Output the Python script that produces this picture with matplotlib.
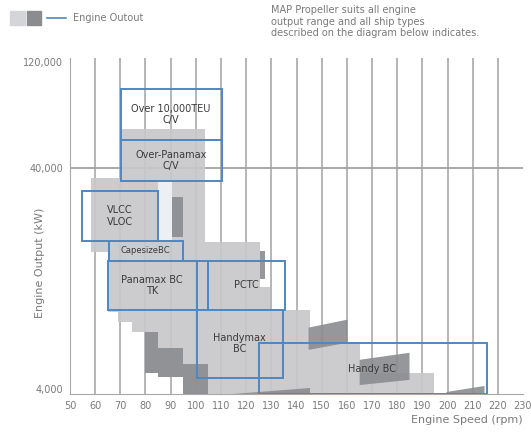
import matplotlib.pyplot as plt
from matplotlib.patches import Rectangle

# x ticks (rpm) and y ticks (kW)
rpm_ticks = [50, 60, 70, 80, 90, 100, 110, 120, 130, 140, 150, 160, 170, 180, 190, 200, 210, 220, 230]
grid_rpm = [60, 70, 80, 90, 100, 110, 120, 130, 140, 150, 160, 170, 180, 190, 200, 210, 220]
kw_ticks = [4000, 40000, 120000]
kw_labels = ["4,000", "40,000", "120,000"]

# engine output envelope (light grey), stepped outline
env_rpm = [58.3, 70.6, 70.6, 103.6, 103.6, 125.4, 125.4, 129.4, 129.4, 145.2, 145.2,
           165.1, 165.1, 194.8, 194.8, 94.8, 94.8, 84.9, 84.9, 79.8, 79.8, 74.6,
           74.6, 69.0, 69.0, 65.1, 65.1, 58.3]
env_kw = [36000, 36000, 60000, 60000, 18400, 18400, 11500, 11500, 9100, 9100, 6500,
          6500, 4700, 4700, 3790, 3790, 4500, 4500, 4700, 4700, 7200, 7200,
          8050, 8050, 8940, 8940, 16600, 16600]

# lighter gap inside the envelope
gap_rpm = [84.9, 90.5, 90.5, 84.9]
gap_kw = [18600, 18600, 34800, 34800]

# darker engine output blocks
dark_rpm = [
    [90.5, 94.8, 94.8, 90.5],
    [125.4, 127.4, 127.4, 125.4],
    [79.8, 84.9, 84.9, 79.8],
    [84.9, 94.8, 94.8, 84.9],
    [94.8, 104.8, 104.8, 94.8],
    [144.8, 160.3, 160.3, 144.8],
    [165.1, 184.9, 184.9, 165.1],
    [199.6, 214.7, 214.7, 199.6],
    [114.7, 145.2, 145.2],
]
dark_kw = [
    [19400, 19400, 29500, 29500],
    [12500, 12500, 16700, 16700],
    [4700, 4700, 7200, 7200],
    [4500, 4500, 6100, 6100],
    [3790, 3790, 5200, 5200],
    [6000, 6460, 8220, 7560],
    [4160, 4390, 5820, 5410],
    [3790, 3790, 4120, 3870],
    [3790, 3790, 4040],
]

# ship type boxes
ship_names = ["Over 10,000TEU\nC/V", "Over-Panamax\nC/V", "VLCC\nVLOC", "CapesizeBC",
              "Panamax BC\nTK", "PCTC", "Handymax\nBC", "Handy BC"]
ship_rpm_lo = [70.2, 70.2, 54.8, 65.5, 65.1, 100.4, 100.4, 125.0]
ship_rpm_hi = [110.3, 110.3, 84.9, 94.8, 104.8, 135.3, 134.5, 215.5]
ship_kw_lo = [53400, 34800, 18600, 15200, 9100, 9100, 4480, 3800]
ship_kw_hi = [91000, 53400, 31300, 18600, 15200, 15200, 9100, 6420]
label_rpm = [90.2, 90.2, 69.8, 80.1, 82.7, 120.0, 117.4, 170.0]

light = "#c8c8ca"
dark = "#8b8c8f"
blue = "#4d87c4"
txt = "#7a7a7a"

fig = plt.figure(figsize=(5.31, 4.32), dpi=100)
ax = fig.add_axes([70 / 531, 1 - 394 / 432, 453 / 531, 336 / 432])
ax.set_yscale("log")
ax.set_xlim(50, 230)
ax.set_ylim(3790, 125000)

for r in grid_rpm:
    ax.axvline(r, color="#a2a2a2", lw=1.1, zorder=1)
ax.axhline(40000, color="#a2a2a2", lw=1.3, zorder=1)

ax.fill(env_rpm, env_kw, color=light, alpha=0.92, lw=0, zorder=2)
ax.fill(gap_rpm, gap_kw, color="#eceff3", lw=0, zorder=2)
for xs, ys in zip(dark_rpm, dark_kw):
    ax.fill(xs, ys, color=dark, alpha=0.9, lw=0, zorder=3)

for i, name in enumerate(ship_names):
    ax.add_patch(Rectangle((ship_rpm_lo[i], ship_kw_lo[i]),
                           ship_rpm_hi[i] - ship_rpm_lo[i],
                           ship_kw_hi[i] - ship_kw_lo[i],
                           fill=False, ec=blue, lw=1.4, zorder=4))
    ky = (ship_kw_lo[i] * ship_kw_hi[i]) ** 0.5
    fs = 6 if name == "CapesizeBC" else 7
    ax.text(label_rpm[i], ky, name, ha="center", va="center", fontsize=fs,
            color="#3a3a3a", linespacing=1.15, zorder=5)

ax.set_xticks(rpm_ticks)
ax.set_xticklabels([str(t) for t in rpm_ticks])
ax.set_yticks(kw_ticks)
ax.set_yticklabels(kw_labels)
ax.minorticks_off()
ax.tick_params(length=0, labelsize=7, labelcolor=txt, pad=5)
for s in ["top", "right"]:
    ax.spines[s].set_visible(False)
for s in ["left", "bottom"]:
    ax.spines[s].set_color("#a8a8a8")

ax.set_ylabel("Engine Output (kW)", fontsize=8, color=txt)
ax.yaxis.set_label_coords(-0.055, 0.39)
ax.set_xlabel("Engine Speed (rpm)", fontsize=8, color=txt, ha="right")
ax.xaxis.set_label_coords(1.0, -0.062)

# legend at the top
fig.patches.append(Rectangle((10 / 531, 1 - 25 / 432), 15 / 531, 14 / 432,
                             color="#d3d5d8", transform=fig.transFigure))
fig.patches.append(Rectangle((27 / 531, 1 - 25 / 432), 14 / 531, 14 / 432,
                             color=dark, transform=fig.transFigure))
fig.add_artist(plt.Line2D([47 / 531, 66 / 531], [1 - 18 / 432, 1 - 18 / 432],
                          color=blue, lw=1.2, transform=fig.transFigure))
fig.text(73 / 531, 1 - 18 / 432, "Engine Outout", fontsize=7, color=txt, va="center")
fig.text(271 / 531, 1 - 5 / 432,
         "MAP Propeller suits all engine\noutput range and all ship types\n"
         "described on the diagram below indicates.",
         fontsize=7, color=txt, va="top", linespacing=1.2)

plt.savefig("out.png", dpi=100)
